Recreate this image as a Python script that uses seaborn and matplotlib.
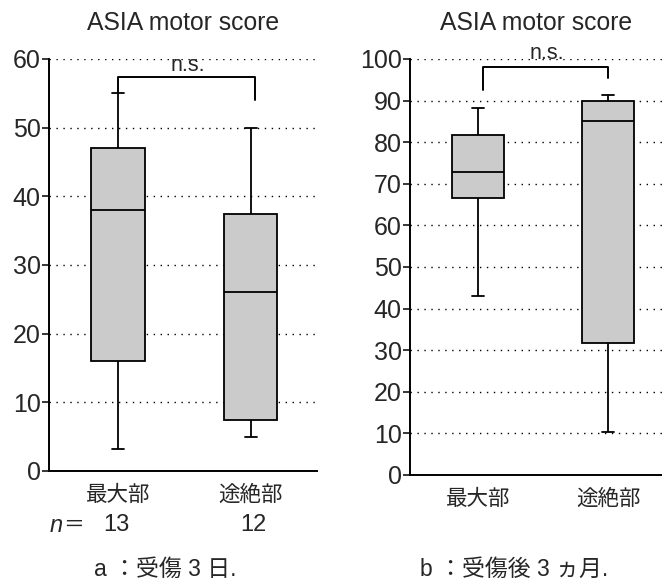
import numpy as np
import pandas as pd
import matplotlib
matplotlib.use("Agg")
import matplotlib.pyplot as plt
import seaborn as sns

# Categories and group sizes
sites = ["最大部", "途絶部"]
n_counts = [13, 12]

# Five-number summaries per group: (min, Q1, median, Q3, max)
day3_max = [3.2, 16.0, 38.0, 47.0, 55.0]
day3_block = [5.0, 7.4, 26.0, 37.5, 50.0]
month3_max = [43.0, 66.6, 72.8, 81.7, 88.2]
month3_block = [10.3, 31.7, 85.1, 89.9, 91.3]

panel_titles = ["ASIA motor score", "ASIA motor score"]
captions = ["a ：受傷 3 日.", "b ：受傷後 3 ヵ月."]
y_ticks_a = list(range(0, 61, 10))
y_ticks_b = list(range(0, 101, 10))

sns.set_theme(style="white")
plt.rcParams["font.family"] = ["Liberation Sans", "Noto Sans CJK JP", "DejaVu Sans"]

W, H = 662, 579
fig = plt.figure(figsize=(W / 100, H / 100), dpi=100)
fig.patch.set_facecolor("white")


def px_axes(left, top, right, bottom):
    return fig.add_axes([left / W, 1 - bottom / H, (right - left) / W, (bottom - top) / H])


def make_df(a, b):
    return pd.DataFrame({
        "site": [sites[0]] * len(a) + [sites[1]] * len(b),
        "score": list(a) + list(b),
    })


def draw_panel(ax, df, yticks, xlim):
    sns.boxplot(data=df, x="site", y="score", order=sites, whis=(0, 100),
                width=0.4, color="#cbcbcb", linecolor="black", linewidth=1.3,
                fill=True, ax=ax)
    # shorten whisker caps
    for ln in ax.lines:
        xd, yd = np.asarray(ln.get_xdata(), float), np.asarray(ln.get_ydata(), float)
        if len(xd) == 2 and yd[0] == yd[1] and 0 < abs(xd[1] - xd[0]) < 0.35:
            c = xd.mean()
            ln.set_xdata([c - 0.045, c + 0.045])
    ax.set_xlim(*xlim)
    ax.set_ylim(yticks[0], yticks[-1])
    ax.set_yticks(yticks)
    ax.set_xlabel("")
    ax.set_ylabel("")
    ax.set_axisbelow(True)
    ax.yaxis.grid(True, linestyle=(0, (1, 4)), color="black", linewidth=1.0)
    ax.xaxis.grid(False)
    for s in ["top", "right"]:
        ax.spines[s].set_visible(False)
    for s in ["left", "bottom"]:
        ax.spines[s].set_color("black")
        ax.spines[s].set_linewidth(1.4)
    ax.tick_params(axis="y", direction="out", length=5, width=1.1, color="black",
                   pad=1, labelsize=18, left=True)
    ax.tick_params(axis="x", length=0, pad=10, labelsize=15.5)
    ax.patch.set_alpha(0)


# Panel a: 3 days after injury
ax_a = px_axes(49, 59, 317, 471)
draw_panel(ax_a, make_df(day3_max, day3_block), y_ticks_a, (-0.52, 1.50))
ax_a.plot([0, 0, 1.03, 1.03], [55.2, 57.4, 57.4, 54.0], color="black", lw=1.4,
          clip_on=False)
ax_a.text(0.53, 59.0, "n.s.", ha="center", va="center", fontsize=15.5)

# Panel b: 3 months after injury
ax_b = px_axes(410, 59, 662, 475)
draw_panel(ax_b, make_df(month3_max, month3_block), y_ticks_b, (-0.523, 1.415))
ax_b.plot([0.04, 0.04, 1.0, 1.0], [92.5, 98.1, 98.1, 95.4], color="black", lw=1.4,
          clip_on=False)
ax_b.text(0.53, 101.4, "n.s.", ha="center", va="center", fontsize=15.5)

# Titles
fig.text(183 / W, 1 - 23 / H, panel_titles[0], ha="center", va="center", fontsize=17.8)
fig.text(536 / W, 1 - 23 / H, panel_titles[1], ha="center", va="center", fontsize=17.8)

# Group sizes under panel a
fig.text(50 / W, 1 - 525 / H, "n", ha="left", va="center", fontsize=17,
         fontstyle="italic")
fig.text(74 / W, 1 - 525 / H, "＝", ha="center", va="center", fontsize=15)
fig.text(116 / W, 1 - 525 / H, str(n_counts[0]), ha="center", va="center", fontsize=17)
fig.text(253 / W, 1 - 525 / H, str(n_counts[1]), ha="center", va="center", fontsize=17)

# Captions
fig.text(165 / W, 1 - 569 / H, captions[0], ha="center", va="center", fontsize=16.5)
fig.text(514 / W, 1 - 569 / H, captions[1], ha="center", va="center", fontsize=16.5)

fig.savefig("out.png", dpi=100)
